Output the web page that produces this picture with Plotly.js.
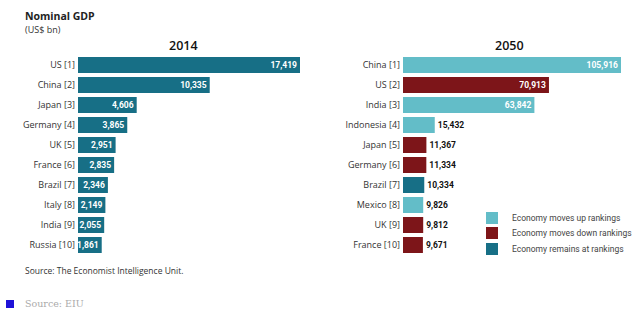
<!DOCTYPE html>
<html><head><meta charset="utf-8">
<script src="https://cdn.plot.ly/plotly-3.0.1.min.js"></script>
<style>html,body{margin:0;padding:0;background:#fff;}#chart{width:640px;height:324px;}</style>
</head><body><div id="chart"></div>
<script>
const cats2014 = ["US [1]","China [2]","Japan [3]","Germany [4]","UK [5]","France [6]","Brazil [7]","Italy [8]","India [9]","Russia [10]"];
const vals2014 = [17419,10335,4606,3865,2951,2835,2346,2149,2055,1861];
const cats2050 = ["China [1]","US [2]","India [3]","Indonesia [4]","Japan [5]","Germany [6]","Brazil [7]","Mexico [8]","UK [9]","France [10]"];
const vals2050 = [105916,70913,63842,15432,11367,11334,10334,9826,9812,9671];
const moves2050 = ["up","down","up","up","down","down","same","up","down","down"];
const groupNames = {up:"Economy moves up rankings", down:"Economy moves down rankings", same:"Economy remains at rankings"};
const groupColors = {up:"#63bdc8", down:"#7d1519", same:"#176f86"};
const fmt = v => v.toLocaleString("en-US");

const W=640,H=324;
const px = x => x/W, py = y => 1 - y/H;
const FONT = "Open Sans, sans-serif";
const NARROW = "Roboto, Open Sans, sans-serif";
const inFont = {family:NARROW, size:8.5, color:"#ffffff", weight:"bold"};
const outFont = {family:NARROW, size:8.5, color:"#111111", weight:"bold"};

const traces = [{
  type:"bar", orientation:"h", x:vals2014, y:cats2014, xaxis:"x", yaxis:"y",
  marker:{color:"#176f86"}, width:0.8,
  text:vals2014.map(fmt), textposition:"inside", insidetextanchor:"end",
  textfont:inFont, insidetextfont:inFont, constraintext:"none",
  showlegend:false, hoverinfo:"none"
}];
const legendIds = {up:"legend", down:"legend2", same:"legend3"};
["up","down","same"].forEach(g=>{
  const ys=[],xs=[],pos=[];
  cats2050.forEach((c,i)=>{ if(moves2050[i]===g){ ys.push(c); xs.push(vals2050[i]);
    pos.push(vals2050[i] > 30000 ? "inside" : "outside"); }});
  traces.push({type:"bar", orientation:"h", x:xs, y:ys, xaxis:"x2", yaxis:"y2",
    name:groupNames[g], legend:legendIds[g], marker:{color:groupColors[g]}, width:0.8,
    text:xs.map(fmt), textposition:pos, insidetextanchor:"end",
    textfont:inFont, outsidetextfont:outFont, insidetextfont:inFont,
    constraintext:"none", cliponaxis:false, hoverinfo:"none"});
});

const yBase = {type:"category", autorange:"reversed", showgrid:false, zeroline:false, showline:false,
  ticks:"", ticklabelstandoff:2, tickfont:{family:FONT, size:9, color:"#333333"}, fixedrange:true, automargin:false};
const xBase = {showgrid:false, zeroline:false, showline:false, showticklabels:false, fixedrange:true, automargin:false};
const legBase = {xanchor:"left", yanchor:"middle", font:{family:NARROW, size:8.5, color:"#444444"},
  itemwidth:30, bgcolor:"rgba(0,0,0,0)", borderwidth:0, xref:"paper", yref:"paper"};

const layout = {
  width:W, height:H, margin:{l:0,r:0,t:0,b:0},
  paper_bgcolor:"#ffffff", plot_bgcolor:"#ffffff",
  barmode:"overlay", bargap:0.2,
  font:{family:FONT, color:"#333333"},
  xaxis:Object.assign({}, xBase, {domain:[px(78), px(300)], range:[0,17419], anchor:"y"}),
  yaxis:Object.assign({}, yBase, {domain:[py(255), py(55)], anchor:"x", categoryorder:"array", categoryarray:cats2014}),
  xaxis2:Object.assign({}, xBase, {domain:[px(403), px(621)], range:[0,105916], anchor:"y2"}),
  yaxis2:Object.assign({}, yBase, {domain:[py(255), py(55)], anchor:"x2", categoryorder:"array", categoryarray:cats2050}),
  legend:Object.assign({}, legBase, {x:px(472), y:py(218)}),
  legend2:Object.assign({}, legBase, {x:px(472), y:py(233)}),
  legend3:Object.assign({}, legBase, {x:px(472), y:py(249)}),
  annotations:[
    {text:"<b>Nominal GDP</b>", x:px(23), y:py(16), xref:"paper", yref:"paper", xanchor:"left", yanchor:"middle", showarrow:false, font:{family:FONT, size:10.5, color:"#222"}},
    {text:"(US$ bn)", x:px(23), y:py(30), xref:"paper", yref:"paper", xanchor:"left", yanchor:"middle", showarrow:false, font:{family:FONT, size:9, color:"#333"}},
    {text:"2014", x:px(183), y:py(46), xref:"paper", yref:"paper", xanchor:"center", yanchor:"middle", showarrow:false, font:{family:FONT, size:12.5, color:"#111", weight:600}},
    {text:"2050", x:px(509), y:py(46), xref:"paper", yref:"paper", xanchor:"center", yanchor:"middle", showarrow:false, font:{family:FONT, size:12.5, color:"#111", weight:600}},
    {text:"Source: The Economist Intelligence Unit.", x:px(23), y:py(270), xref:"paper", yref:"paper", xanchor:"left", yanchor:"middle", showarrow:false, font:{family:FONT, size:8.5, color:"#333"}},
    {text:"Source: EIU", x:px(23), y:py(303), xref:"paper", yref:"paper", xanchor:"left", yanchor:"middle", showarrow:false, font:{family:"DejaVu Serif, serif", size:9.5, color:"#aaaaaa"}}
  ],
  shapes:[
    {type:"rect", xref:"paper", yref:"paper", x0:px(6), x1:px(14), y0:py(308), y1:py(300), fillcolor:"#1f12d8", line:{width:0}}
  ]
};
Plotly.newPlot("chart", traces, layout, {displayModeBar:false, staticPlot:true});
</script></body></html>
